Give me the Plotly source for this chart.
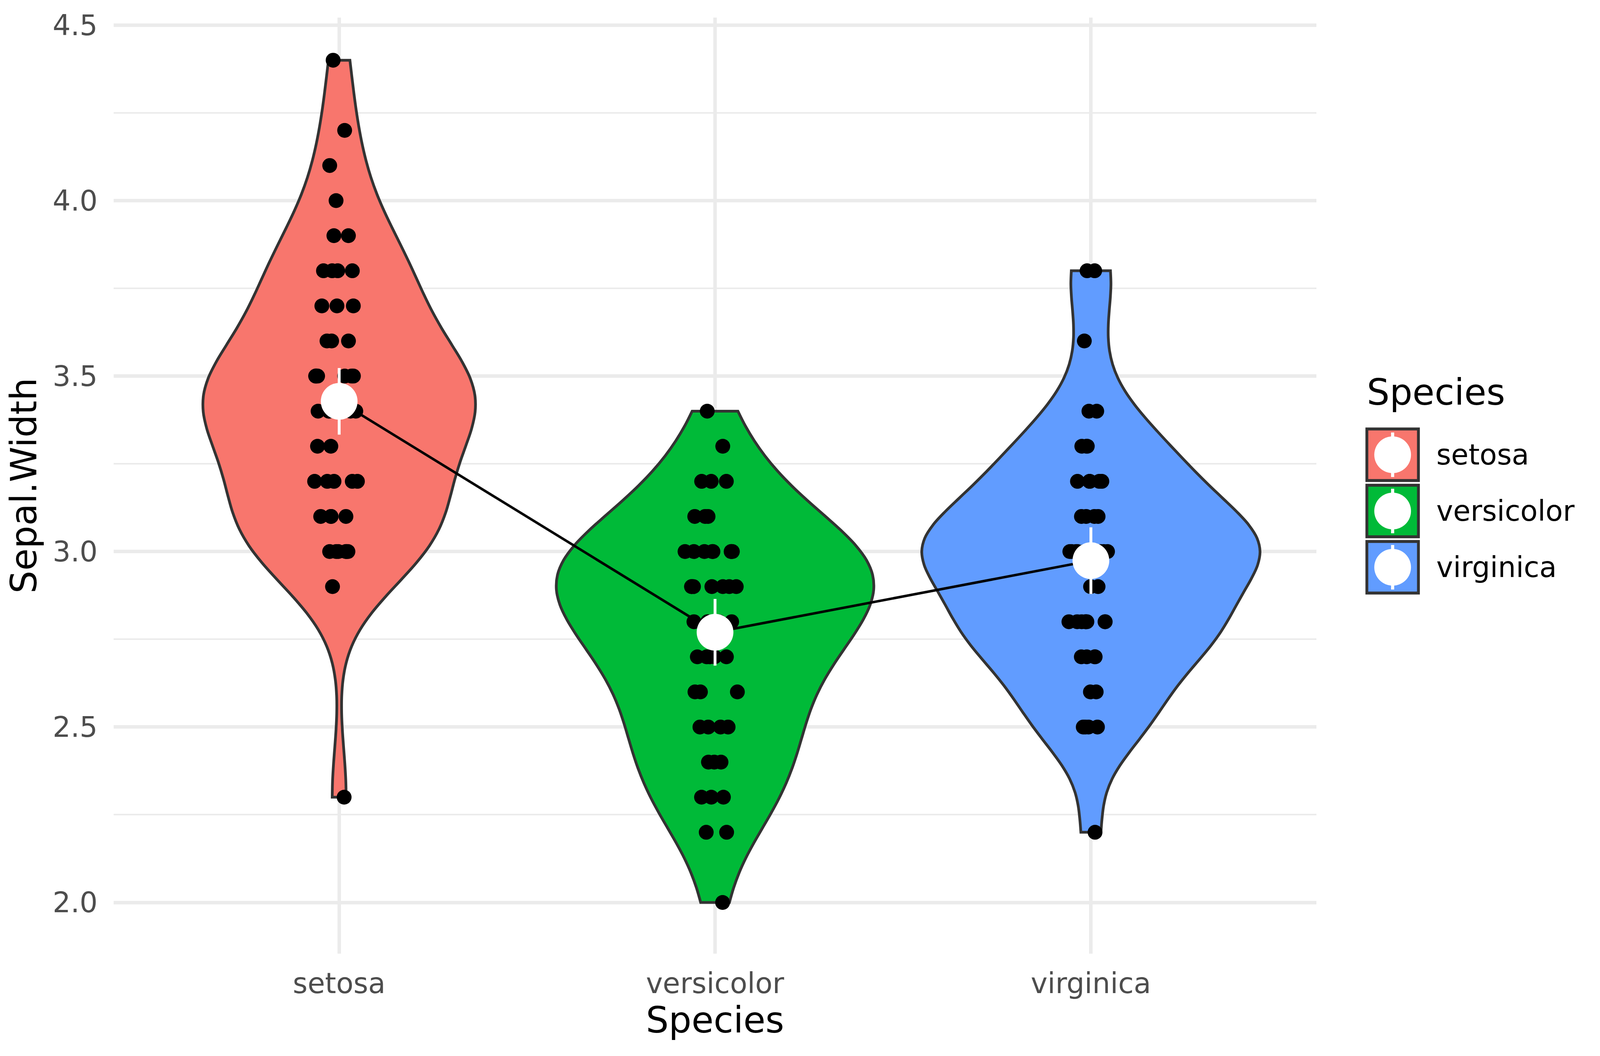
import numpy as np
import plotly.graph_objects as go

species = ["setosa", "versicolor", "virginica"]
fill_colors = ["#F8766D", "#00BA38", "#619CFF"]

# iris Sepal.Width, one list per species
setosa_sw = [3.5, 3.0, 3.2, 3.1, 3.6, 3.9, 3.4, 3.4, 2.9, 3.1,
             3.7, 3.4, 3.0, 3.0, 4.0, 4.4, 3.9, 3.5, 3.8, 3.8,
             3.4, 3.7, 3.6, 3.3, 3.4, 3.0, 3.4, 3.5, 3.4, 3.2,
             3.1, 3.4, 4.1, 4.2, 3.1, 3.2, 3.5, 3.6, 3.0, 3.4,
             3.5, 2.3, 3.2, 3.5, 3.8, 3.0, 3.8, 3.2, 3.7, 3.3]
versicolor_sw = [3.2, 3.2, 3.1, 2.3, 2.8, 2.8, 3.3, 2.4, 2.9, 2.7,
                 2.0, 3.0, 2.2, 2.9, 2.9, 3.1, 3.0, 2.7, 2.2, 2.5,
                 3.2, 2.8, 2.5, 2.8, 2.9, 3.0, 2.8, 3.0, 2.9, 2.6,
                 2.4, 2.4, 2.7, 2.7, 3.0, 3.4, 3.1, 2.3, 3.0, 2.5,
                 2.6, 3.0, 2.6, 2.3, 2.7, 3.0, 2.9, 2.9, 2.5, 2.8]
virginica_sw = [3.3, 2.7, 3.0, 2.9, 3.0, 3.0, 2.5, 2.9, 2.5, 3.6,
                3.2, 2.7, 3.0, 2.5, 2.8, 3.2, 3.0, 3.8, 2.6, 2.2,
                3.2, 2.8, 2.8, 2.7, 3.3, 3.2, 2.8, 3.0, 2.8, 3.0,
                2.8, 3.8, 2.8, 2.8, 2.6, 3.0, 3.4, 3.1, 3.0, 3.1,
                3.1, 3.1, 2.7, 3.2, 3.3, 3.0, 2.5, 3.0, 3.4, 3.0]

# half length of the white range bars
range_half = [0.095, 0.095, 0.095]

y_ticks = [2.0, 2.5, 3.0, 3.5, 4.0, 4.5]
y_minor = [2.25, 2.75, 3.25, 3.75, 4.25]

# the browser page is only 4096 px wide, so squeeze the layout sideways
REF_W = 4375
W, H = 4096, 2703
fx = W / REF_W
L = round(311 * fx)
R = W - round(3600 * fx)
T, B = 45, 262


def px_x(ref_px):
    return (ref_px * fx - L) / (W - L - R)


def px_y(py):
    return (H - B - py) / (H - T - B)


def nrd0(v):
    # same rule as R's bw.nrd0
    v = np.asarray(v)
    q75, q25 = np.percentile(v, [75, 25])
    return 0.9 * min(v.std(ddof=1), (q75 - q25) / 1.34) * len(v) ** -0.2


def peak_density(v, bw):
    v = np.asarray(v)
    grid = np.linspace(v.min(), v.max(), 512)
    d = np.exp(-0.5 * ((grid[:, None] - v[None, :]) / bw) ** 2).sum(axis=1)
    return d.max() / (len(v) * bw * np.sqrt(2 * np.pi))


groups = [setosa_sw, versicolor_sw, virginica_sw]
bws = [nrd0(g) for g in groups]
peaks = [peak_density(g, b) for g, b in zip(groups, bws)]
# equal-area violins: the tallest density gets the full 0.9 width
widths = [0.9 * p / max(peaks) for p in peaks]

fig = go.Figure()

for i, (name, vals, col) in enumerate(zip(species, groups, fill_colors)):
    fig.add_trace(go.Violin(
        x=[i + 1] * len(vals), y=vals, name=name, orientation="v",
        fillcolor=col, line=dict(color="#333333", width=7),
        width=widths[i], bandwidth=bws[i], spanmode="hard",
        scalemode="width",
        points="all", pointpos=0, jitter=0.095 / (widths[i] / 2),
        marker=dict(color="black", size=38, line=dict(width=0)),
        box_visible=False, meanline_visible=False,
        showlegend=False,
    ))

means = [float(np.mean(g)) for g in groups]
fig.add_trace(go.Scatter(
    x=[1, 2, 3], y=means, mode="lines+markers",
    line=dict(color="black", width=6.5),
    marker=dict(color="white", size=94, line=dict(width=0)),
    error_y=dict(type="data", array=range_half, color="white",
                 thickness=7.3, width=0),
    showlegend=False,
))

# legend drawn by hand, ggplot style
shapes = []
annotations = []
key_cy = [1164, 1308, 1452]
key_cx = px_x(3808)
for cy, col, name in zip(key_cy, fill_colors, species):
    shapes.append(dict(type="rect", xref="paper", yref="paper",
                       xsizemode="pixel", xanchor=key_cx,
                       x0=-66, x1=66,
                       y0=px_y(cy + 66), y1=px_y(cy - 66),
                       fillcolor=col, line=dict(color="#333333", width=7.3)))
    shapes.append(dict(type="rect", xref="paper", yref="paper",
                       xsizemode="pixel", ysizemode="pixel",
                       xanchor=key_cx, yanchor=px_y(cy),
                       x0=-4, x1=4, y0=-57, y1=57,
                       fillcolor="white", line=dict(width=0)))
    shapes.append(dict(type="circle", xref="paper", yref="paper",
                       xsizemode="pixel", ysizemode="pixel",
                       xanchor=key_cx, yanchor=px_y(cy),
                       x0=-47, x1=47, y0=-47, y1=47,
                       fillcolor="white", line=dict(width=0)))
    annotations.append(dict(text=name, xref="paper", yref="paper",
                            x=px_x(3925), y=px_y(cy), xanchor="left",
                            yanchor="middle", showarrow=False,
                            font=dict(size=72.5, color="black")))

annotations.append(dict(text="Species", xref="paper", yref="paper",
                        x=px_x(3735), y=px_y(1005), xanchor="left",
                        yanchor="middle", showarrow=False,
                        font=dict(size=92, color="black")))

fig.update_layout(
    width=W, height=H,
    margin=dict(l=L, r=R, t=T, b=B, autoexpand=False),
    plot_bgcolor="white", paper_bgcolor="white",
    font=dict(family="DejaVu Sans", color="black"),
    violinmode="overlay",
    showlegend=False,
    shapes=shapes,
    annotations=annotations,
    xaxis=dict(
        range=[0.4, 3.6], tickmode="array", tickvals=[1, 2, 3],
        ticktext=species, showgrid=True, gridcolor="#EBEBEB",
        gridwidth=8.5, zeroline=False, showline=False, ticks="",
        tickfont=dict(size=72.5, color="#4D4D4D"),
        ticklabelstandoff=27,
        title=dict(text="Species", font=dict(size=92, color="black"),
                   standoff=14),
    ),
    yaxis=dict(
        range=[1.8542, 4.5215], tickmode="array", tickvals=y_ticks,
        tickformat=".1f", showgrid=True, gridcolor="#EBEBEB",
        gridwidth=8.5, zeroline=False, showline=False, ticks="",
        tickfont=dict(size=72.5, color="#4D4D4D"),
        ticklabelstandoff=40,
        minor=dict(tickmode="array", tickvals=y_minor, showgrid=True,
                   gridcolor="#EBEBEB", gridwidth=4.3),
        title=dict(text="Sepal.Width", font=dict(size=92, color="black"),
                   standoff=10),
    ),
)

fig.write_html("out.html", config={"displayModeBar": False},
               post_script="document.body.style.margin='0';")
